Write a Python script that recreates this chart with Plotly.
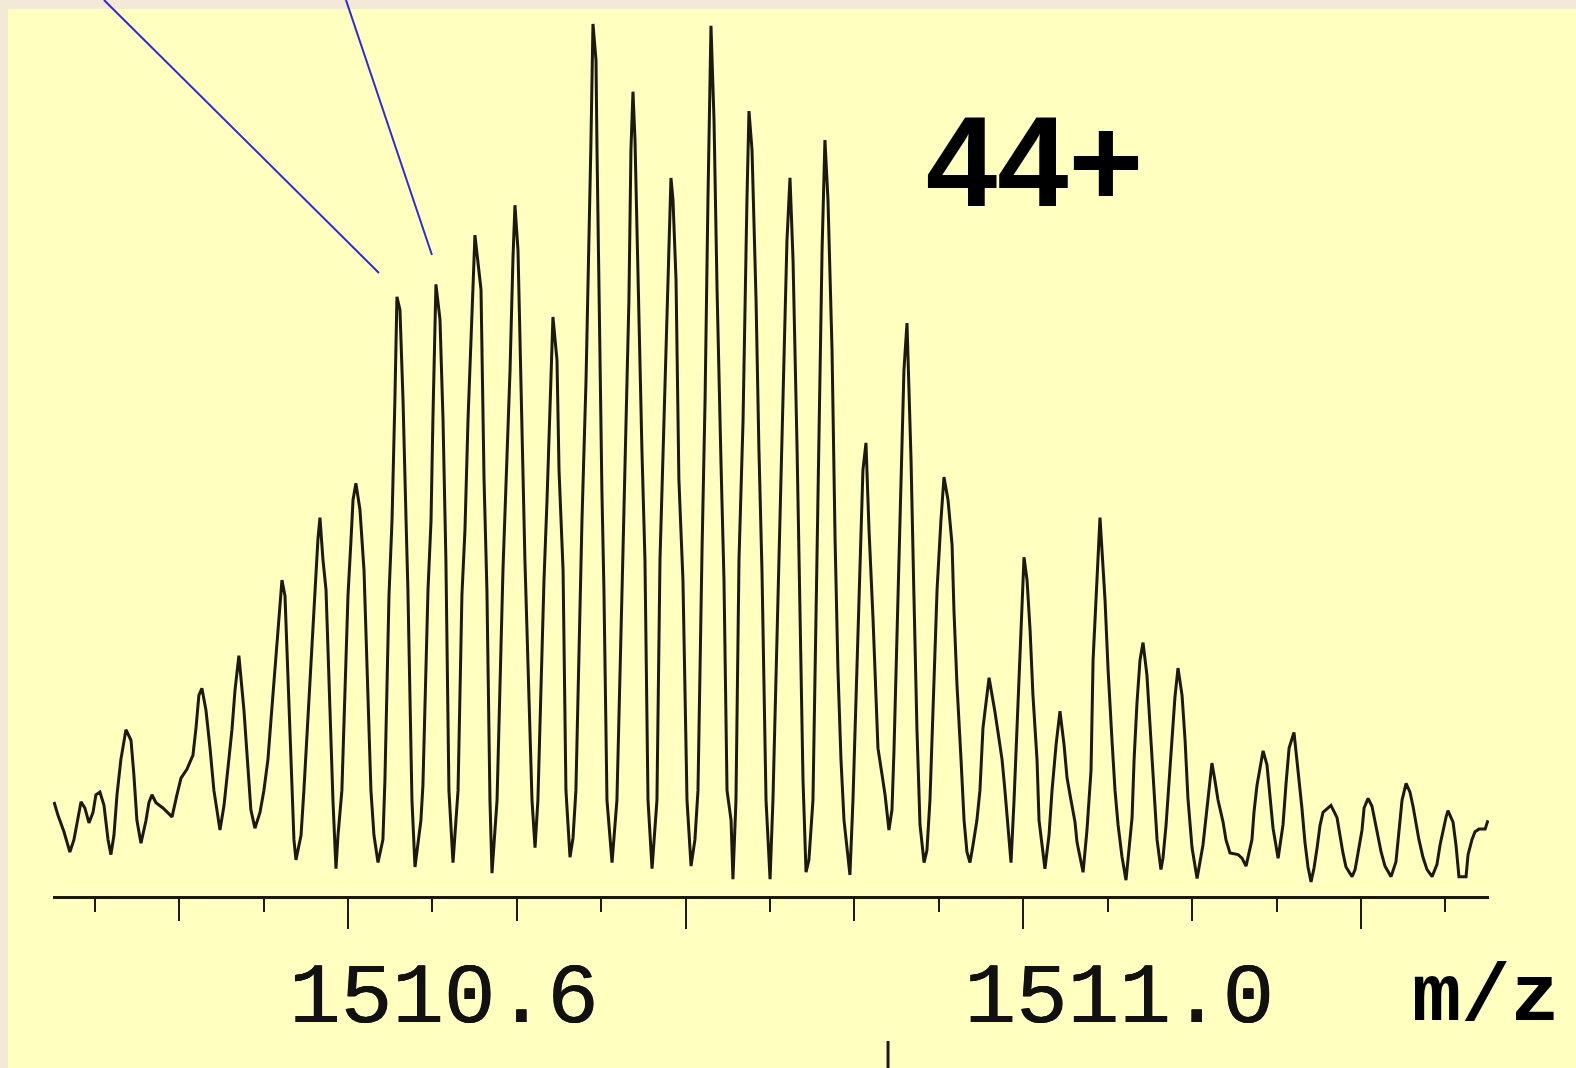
import plotly.graph_objects as go

# Isotope envelope of the 44+ charge state (m/z vs relative intensity)
mz = [
    1510.4259, 1510.4282, 1510.4318, 1510.4353, 1510.4377, 1510.4395, 1510.4419, 1510.4442,
    1510.4466, 1510.4490, 1510.4507, 1510.4531, 1510.4555, 1510.4579, 1510.4596, 1510.4614,
    1510.4632, 1510.4655, 1510.4685, 1510.4715, 1510.4732, 1510.4750, 1510.4774, 1510.4804,
    1510.4821, 1510.4839, 1510.4863, 1510.4904, 1510.4958, 1510.4987, 1510.5011, 1510.5046,
    1510.5082, 1510.5100, 1510.5117, 1510.5135, 1510.5159, 1510.5183, 1510.5206, 1510.5242,
    1510.5266, 1510.5289, 1510.5313, 1510.5331, 1510.5354, 1510.5384, 1510.5408, 1510.5425,
    1510.5449, 1510.5479, 1510.5502, 1510.5526, 1510.5544, 1510.5562, 1510.5585,
    1510.5609, 1510.5627, 1510.5651, 1510.5668, 1510.5680, 1510.5692, 1510.5722, 1510.5739,
    1510.5810, 1510.5822, 1510.5834, 1510.5852, 1510.5870, 1510.5911, 1510.5929, 1510.5941, 1510.5964,
    1510.6000, 1510.6018, 1510.6030, 1510.6047, 1510.6071, 1510.6095, 1510.6136, 1510.6154, 1510.6178,
    1510.6207, 1510.6219,
    1510.6243, 1510.6261, 1510.6278, 1510.6290, 1510.6308, 1510.6326, 1510.6344, 1510.6355,
    1510.6379, 1510.6397, 1510.6432, 1510.6444,
    1510.6474, 1510.6492, 1510.6503, 1510.6521, 1510.6545, 1510.6563, 1510.6580, 1510.6598,
    1510.6622, 1510.6634, 1510.6652,
    1510.6675, 1510.6693, 1510.6711, 1510.6729, 1510.6752, 1510.6788, 1510.6806, 1510.6823,
    1510.6841, 1510.6853, 1510.6883,
    1510.6918, 1510.6936, 1510.6960, 1510.6977, 1510.6989, 1510.7007, 1510.7031, 1510.7048,
    1510.7090, 1510.7108, 1510.7125,
    1510.7161, 1510.7179, 1510.7197, 1510.7214, 1510.7238, 1510.7250, 1510.7274, 1510.7291,
    1510.7315, 1510.7333, 1510.7350,
    1510.7386, 1510.7410, 1510.7427, 1510.7439, 1510.7451, 1510.7469, 1510.7475, 1510.7487,
    1510.7504, 1510.7516, 1510.7534, 1510.7564, 1510.7593,
    1510.7629, 1510.7647, 1510.7664, 1510.7676, 1510.7688, 1510.7700, 1510.7718, 1510.7741,
    1510.7759, 1510.7777, 1510.7801, 1510.7830,
    1510.7848, 1510.7866, 1510.7889, 1510.7913, 1510.7925, 1510.7943, 1510.7960, 1510.7984,
    1510.8008, 1510.8032, 1510.8055, 1510.8073,
    1510.8097, 1510.8115, 1510.8132, 1510.8150, 1510.8168, 1510.8186, 1510.8209, 1510.8227,
    1510.8245, 1510.8269, 1510.8280, 1510.8298,
    1510.8316, 1510.8340, 1510.8363, 1510.8375, 1510.8393, 1510.8417, 1510.8434, 1510.8452,
    1510.8476, 1510.8500, 1510.8517,
    1510.8559, 1510.8577, 1510.8600, 1510.8618, 1510.8636, 1510.8660, 1510.8677, 1510.8695,
    1510.8713, 1510.8730, 1510.8754,
    1510.8766, 1510.8784, 1510.8808, 1510.8825, 1510.8843, 1510.8867, 1510.8885, 1510.8902,
    1510.8920, 1510.8938, 1510.8956, 1510.8973, 1510.8991,
    1510.9009, 1510.9027, 1510.9050, 1510.9068, 1510.9086, 1510.9110, 1510.9127, 1510.9139,
    1510.9163, 1510.9181, 1510.9204, 1510.9222, 1510.9234,
    1510.9252, 1510.9275, 1510.9293, 1510.9311, 1510.9335, 1510.9352, 1510.9370, 1510.9388,
    1510.9412, 1510.9429, 1510.9447,
    1510.9471, 1510.9489, 1510.9512, 1510.9530, 1510.9554, 1510.9578, 1510.9589, 1510.9607,
    1510.9631, 1510.9649, 1510.9666, 1510.9684, 1510.9702, 1510.9725, 1510.9743,
    1510.9761, 1510.9797, 1510.9814, 1510.9832, 1510.9850, 1510.9874, 1510.9891, 1510.9909,
    1510.9927, 1510.9945,
    1510.9968, 1510.9986, 1511.0004, 1511.0022, 1511.0040, 1511.0057, 1511.0081, 1511.0093,
    1511.0117, 1511.0128, 1511.0152, 1511.0170,
    1511.0194, 1511.0217, 1511.0241, 1511.0259, 1511.0282, 1511.0306, 1511.0318, 1511.0342,
    1511.0354, 1511.0377, 1511.0401,
    1511.0413, 1511.0436, 1511.0454, 1511.0484, 1511.0502, 1511.0525, 1511.0543, 1511.0561,
    1511.0584, 1511.0608,
    1511.0620, 1511.0644, 1511.0656, 1511.0673, 1511.0691, 1511.0709, 1511.0732, 1511.0750,
    1511.0768, 1511.0792, 1511.0815, 1511.0827, 1511.0845, 1511.0863, 1511.0881, 1511.0898,
    1511.0916, 1511.0940, 1511.0958, 1511.0975, 1511.0999, 1511.1029,
    1511.1064, 1511.1088, 1511.1106, 1511.1117, 1511.1135, 1511.1153, 1511.1183, 1511.1200,
    1511.1224, 1511.1272, 1511.1295, 1511.1319,
    1511.1354, 1511.1366, 1511.1384, 1511.1408, 1511.1420, 1511.1443, 1511.1461, 1511.1479,
    1511.1509,
    1511.1538, 1511.1556, 1511.1574, 1511.1603, 1511.1627, 1511.1650, 1511.1668, 1511.1686,
    1511.1704,
    1511.1722, 1511.1740, 1511.1757, 1511.1775, 1511.1822, 1511.1858, 1511.1876, 1511.1893,
    1511.1911, 1511.1947,
    1511.1965, 1511.1982, 1511.2006, 1511.2018, 1511.2042, 1511.2065, 1511.2083, 1511.2101,
    1511.2119, 1511.2142, 1511.2178,
    1511.2207, 1511.2225, 1511.2243, 1511.2267, 1511.2290, 1511.2308, 1511.2326, 1511.2343,
    1511.2367, 1511.2391, 1511.2421,
    1511.2450, 1511.2468, 1511.2486, 1511.2504, 1511.2515, 1511.2545, 1511.2563, 1511.2580,
    1511.2622, 1511.2634, 1511.2657, 1511.2675, 1511.2699, 1511.2735, 1511.2752,
]

intensity = [
    10.7, 9.2, 7.3, 5.0, 6.4, 8.1, 10.7, 10.0,
    8.3, 9.5, 11.5, 11.8, 10.3, 6.4, 4.7, 6.9,
    11.5, 15.5, 18.9, 17.7, 13.8, 8.6, 6.0, 8.6,
    10.6, 11.5, 10.6, 10.0, 9.0, 11.5, 13.4, 14.4,
    16.0, 19.1, 22.8, 23.6, 21.1, 16.8, 12.0, 7.5,
    10.3, 14.5, 18.9, 23.4, 27.3, 21.1, 14.3, 9.8,
    7.7, 9.5, 12.0, 15.5, 20.0, 24.5, 30.2,
    35.9, 34.1, 22.3, 12.0, 6.4, 4.1, 6.9, 12.0,
    35.9, 40.5, 43.0, 38.2, 34.8, 10.9, 3.1, 6.9, 12.0,
    34.1, 40.5, 45.0, 46.9, 43.9, 37.0, 12.0, 6.9, 3.8,
    6.4, 13.2,
    34.2, 42.7, 56.4, 68.1, 66.6, 56.4, 42.7, 34.8,
    10.9, 3.3, 8.6, 12.6,
    34.8, 42.7, 54.1, 69.5, 65.5, 54.1, 38.2, 12.0,
    3.8, 7.5, 12.0,
    34.2, 41.6, 54.1, 64.3, 75.1, 68.9, 47.3, 34.8,
    10.9, 2.6, 10.9,
    37.0, 46.1, 59.8, 72.3, 78.5, 73.4, 51.8, 38.2,
    10.9, 5.5, 10.9,
    35.9, 45.0, 56.4, 65.8, 60.9, 48.4, 37.0, 12.0,
    4.4, 6.6, 12.0,
    42.7, 58.6, 73.4, 85.6, 99.1, 95.0, 84.8, 67.7,
    46.1, 34.8, 10.9, 3.8, 10.9,
    39.3, 55.2, 67.7, 84.8, 91.4, 85.9, 70.0, 50.7,
    38.2, 10.9, 3.1, 10.9,
    38.2, 50.7, 67.7, 81.6, 79.1, 70.0, 47.3, 35.9,
    10.9, 3.4, 6.4, 12.0,
    39.3, 56.4, 79.1, 98.9, 88.2, 68.9, 49.5, 35.9,
    12.0, 8.6, 1.9, 10.9,
    38.2, 54.1, 79.1, 89.2, 84.8, 67.7, 50.7, 37.0,
    10.9, 1.9, 10.9,
    42.7, 58.6, 74.5, 81.6, 72.3, 50.7, 32.5, 13.2,
    2.7, 4.1, 10.9,
    24.5, 47.3, 73.4, 85.9, 79.1, 62.0, 40.5, 25.7,
    15.5, 8.6, 5.2, 2.4, 10.9,
    22.3, 35.9, 48.4, 51.5, 41.6, 31.4, 22.3, 16.8,
    13.8, 11.5, 7.5, 9.8, 16.6,
    30.2, 46.1, 59.8, 65.1, 49.5, 34.2, 18.9, 8.1,
    3.8, 5.2, 10.9,
    24.5, 34.8, 42.7, 47.6, 45.0, 39.9, 32.5, 24.0,
    15.5, 8.6, 5.0, 3.8, 5.8, 8.6, 12.0,
    19.1, 24.8, 23.1, 20.9, 18.6, 15.5, 12.0, 7.5,
    3.8, 10.9,
    21.1, 30.8, 38.5, 35.9, 30.2, 22.8, 15.5, 8.6,
    4.4, 3.1, 6.9, 12.0,
    17.2, 21.0, 17.2, 13.4, 10.9, 8.4, 6.1, 4.0,
    2.7, 7.5, 14.3,
    26.8, 36.5, 43.0, 33.6, 25.7, 17.7, 12.0, 8.1,
    4.5, 1.8,
    4.1, 8.9, 15.5, 21.9, 26.8, 28.8, 25.1, 19.7,
    13.4, 6.4, 3.0, 4.3, 8.0, 13.2, 18.0, 22.6,
    25.9, 22.8, 17.7, 11.1, 5.5, 2.0,
    5.8, 9.8, 13.2, 15.1, 13.1, 10.9, 8.4, 6.4,
    4.9, 4.7, 4.3, 3.4,
    6.4, 9.5, 12.6, 15.5, 16.5, 14.9, 11.5, 7.7,
    4.3,
    8.1, 12.8, 16.8, 18.6, 14.3, 10.0, 6.1, 3.3,
    1.6,
    3.2, 5.5, 8.0, 9.5, 10.3, 8.9, 6.8, 4.9,
    3.3, 2.2,
    3.0, 5.0, 7.5, 10.0, 11.1, 10.2, 8.6, 6.8,
    5.0, 3.4, 2.2,
    3.9, 7.5, 10.9, 12.8, 11.8, 10.2, 8.2, 6.4,
    4.4, 3.0, 2.2,
    3.6, 5.8, 7.6, 9.0, 9.7, 8.4, 5.7, 2.2,
    2.2, 4.7, 6.4, 7.3, 7.6, 7.6, 8.6,
]

# Axis ticks and labels
major_ticks = [1510.6, 1510.8, 1511.0, 1511.2]
major_labels = ["1510.6", "", "1511.0", ""]
mid_ticks = [1510.5, 1510.7, 1510.9, 1511.1]
charge_label = "44+"
axis_title = "m/z"

x_range = [1510.4253, 1511.2758]

INK = "#1a1a12"
PAPER = "#f3e9d6"
FIELD = "#ffffbf"
BLUE = "#2b2bd6"
LABEL_STROKE = "0.4px 0px 0px #111111, -0.4px 0px 0px #111111"

fig = go.Figure()

fig.add_trace(go.Scatter(
    x=mz, y=intensity, mode="lines",
    line=dict(color=INK, width=3),
    hoverinfo="skip", showlegend=False,
))

# carrier for the secondary tick axis
fig.add_trace(go.Scatter(
    x=[mz[0]], y=[intensity[0]], xaxis="x2", mode="markers",
    marker=dict(opacity=0), hoverinfo="skip", showlegend=False,
))

fig.update_layout(
    width=1576, height=1068,
    margin=dict(l=53, r=87, t=16, b=172),
    paper_bgcolor=PAPER,
    plot_bgcolor="rgba(0,0,0,0)",
    showlegend=False,
    xaxis=dict(
        range=x_range, showgrid=False, zeroline=False,
        showline=True, linecolor=INK, linewidth=3,
        tickmode="array", tickvals=major_ticks, ticktext=major_labels,
        ticks="outside", ticklen=30, tickwidth=2, tickcolor=INK,
        tickfont=dict(family="Liberation Mono", size=86, color="#111111",
                      shadow=LABEL_STROKE),
        ticklabelshift=96, ticklabelstandoff=-10,
        minor=dict(ticks="outside", tick0=1510.0, dtick=0.05, ticklen=13,
                   tickwidth=2, tickcolor=INK, showgrid=False),
        automargin=False,
    ),
    xaxis2=dict(
        range=x_range, matches="x", overlaying="x", anchor="y", side="bottom",
        showgrid=False, zeroline=False, showline=False,
        tickmode="array", tickvals=mid_ticks, showticklabels=False,
        ticks="outside", ticklen=24, tickwidth=2, tickcolor=INK,
    ),
    yaxis=dict(range=[0, 100], visible=False, fixedrange=True),
)

# yellow field with a thin beige border on the top and left
fig.add_shape(type="rect", xref="paper", yref="paper",
              x0=-0.0313, x1=1.07, y0=-0.21, y1=1.0080,
              fillcolor=FIELD, line=dict(width=0), layer="below")

# callout lines pointing at two isotope peaks
fig.add_shape(type="line", xref="paper", yref="paper",
              x0=0.0355, y0=1.0182, x1=0.2270, y1=0.7080,
              line=dict(color=BLUE, width=2))
fig.add_shape(type="line", xref="paper", yref="paper",
              x0=0.2040, y0=1.0182, x1=0.2639, y1=0.7284,
              line=dict(color=BLUE, width=2))

# small marker below the axis
fig.add_shape(type="line", xref="paper", yref="paper",
              x0=0.5815, x1=0.5815, y0=-0.1648, y1=-0.2,
              line=dict(color=INK, width=3))

fig.add_annotation(text=charge_label, xref="paper", yref="paper",
                   x=0.6835, y=0.8352, xanchor="center", yanchor="middle",
                   showarrow=False,
                   font=dict(family="Liberation Sans", size=128, color="#000000", weight="bold"))

fig.add_annotation(text=axis_title, xref="paper", yref="paper",
                   x=0.9976, y=-0.1165, xanchor="center", yanchor="middle",
                   showarrow=False,
                   font=dict(family="Liberation Mono", size=82, color="#000000", weight="bold"))

fig.write_html("out.html")
